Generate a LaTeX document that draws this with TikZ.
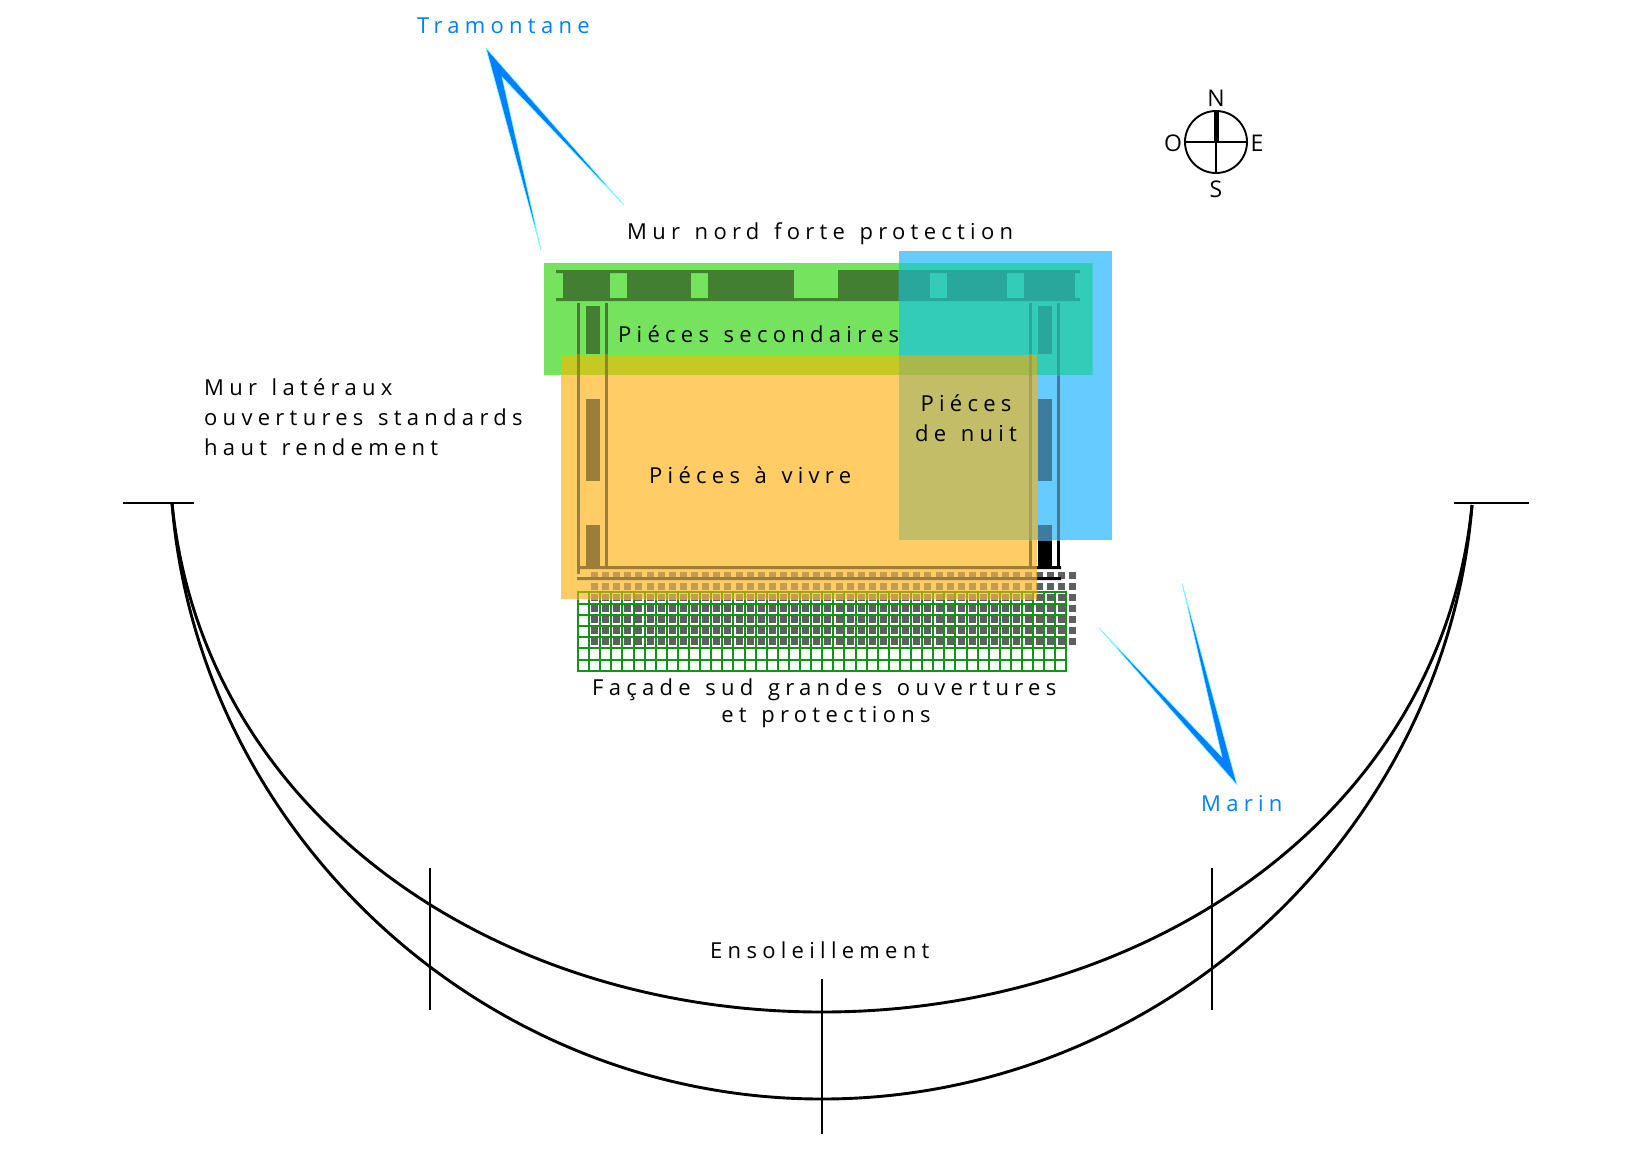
\documentclass[tikz,border=0pt]{standalone}
\usepackage{fontspec}
\usetikzlibrary{positioning}
\newfontfamily\labelfont[LetterSpace=24,WordSpace=1.33]{Open Sans}
\newfontfamily\compassfont{Open Sans}
\definecolor{greenzone}{HTML}{76E35F}
\definecolor{greenwall}{HTML}{437E33}
\definecolor{orangezone}{HTML}{FFCC66}
\definecolor{orangewall}{HTML}{9C7E3B}
\definecolor{bluezone}{HTML}{66CCFF}
\definecolor{bluewall}{HTML}{3E7C9E}
\definecolor{tealzone}{HTML}{33CCB8}
\definecolor{tealwall}{HTML}{29A79C}
\definecolor{olivezone}{HTML}{C4C924}
\definecolor{olivewall}{HTML}{8A8A24}
\definecolor{sandzone}{HTML}{C2BD66}
\definecolor{sandwall}{HTML}{A89F5F}
\definecolor{mosszone}{HTML}{A9B84A}
\definecolor{mosswall}{HTML}{9BA04A}
\definecolor{gridgreen}{HTML}{149414}
\definecolor{gridolive}{HTML}{9AA80F}
\definecolor{tilegrey}{HTML}{5F5F5F}
\definecolor{tiletan}{HTML}{C39C50}
\definecolor{windblue}{HTML}{007FFF}
\definecolor{windhalo}{HTML}{80FFFF}
\tikzset{
wordlabel/.style={anchor=base west,inner sep=0pt,font=\labelfont\fontsize{22}{26}\selectfont},
midlabel/.style={wordlabel,anchor=base},
windlabel/.style={wordlabel,text=windblue},
compasslabel/.style={inner sep=0pt,font=\compassfont\fontsize{23}{26}\selectfont},
sunline/.style={line width=2.9pt},
windtip/.style={fill=windblue,draw=windhalo,line width=0.6pt,line join=miter}
}
\newcommand{\walls}[1]{%
\fill[#1] (556,270) rectangle (794,273) (838,270) rectangle (1080,273) (556,298) rectangle (1080,301);
\foreach \a/\b in {563/610,627/691,708/794,838/930,947/1007,1024/1075}
  \fill[#1] (\a,273) rectangle (\b,298);
\foreach \a in {605,1029,1057}
  \fill[#1] (\a,303) rectangle (\a+3,566);
\fill[#1] (577,303) rectangle (580,574);
\fill[#1] (577,566) rectangle (1061,569) (577,577) rectangle (1061,580);
\foreach \a in {586,1038}
  \foreach \b/\c in {306/354,399/481,525/566}
    \fill[#1] (\a,\b) rectangle (\a+14,\c);
}
\newcommand{\facade}[2]{%
\foreach \i in {0,...,44}
  \draw[#1,line width=2pt] ({578+11.1*\i},591.5) -- ({578+11.1*\i},670.5);
\foreach \j in {0,...,7}
  \draw[#1,line width=2pt] (577,{592.3+11.2*\j}) -- (1067.4,{592.3+11.2*\j});
\foreach \i in {0,...,43}
  \foreach \j in {0,...,6}
    \fill[#2] ({591+11.116*\i},{572+11*\j}) rectangle +(7,7);
}
\newcommand{\zone}[6][]{%
\begin{scope}
\clip (#2) rectangle (#3);
\fill[#4] (#2) rectangle (#3);
#1
\walls{#5}
#6
\end{scope}
}
\begin{document}
\begin{tikzpicture}[x=1pt,y=-1pt]
\useasboundingbox (0,0) rectangle (1637,1157);
% tiles and walls, before the zones
\facade{gridgreen}{tilegrey}
\walls{black}
% zones
\zone{544,262.5}{1092.5,375}{greenzone}{greenwall}{}
\zone[\facade{gridolive}{tiletan}]{561,354.5}{1037,599}{orangezone}{orangewall}{}
\zone{898.5,251}{1112,540}{bluezone}{bluewall}{}
\zone{561,354.5}{1037,375}{olivezone}{olivewall}{}
\zone{898.5,262.5}{1092.5,375}{tealzone}{tealwall}{}
\zone{898.5,354.5}{1037,540}{sandzone}{sandwall}{}
\zone{898.5,354.5}{1037,375}{mosszone}{mosswall}{}
% winds
\coordinate (trtip) at (486,48);
\coordinate (trnotch) at (502,77);
\coordinate (tra) at (624,205);
\coordinate (trb) at (541,250);
\filldraw[windtip] (trtip) -- (tra) -- (trnotch) -- (trb) -- cycle;
\coordinate (matip) at (1237,785);
\coordinate (manotch) at (1222,757);
\coordinate (maa) at (1099,628);
\coordinate (mab) at (1182,583);
\filldraw[windtip] (matip) -- (maa) -- (manotch) -- (mab) -- cycle;
% compass
\node[draw,circle,line width=1.9pt,minimum size=62pt,inner sep=0pt] (rose) at (1216,142) {};
\draw[line width=1.7pt] (rose.west) -- (rose.east) (rose.center) -- (rose.south);
\draw[line width=5pt] (rose.north) -- (rose.center);
\node[compasslabel] (north) at (1216,98.5) {N};
\node[compasslabel] (south) at (1216,189) {S};
\node[compasslabel] (west) at (1173,143) {O};
\node[compasslabel] (east) at (1257,143) {E};
% sun paths
\coordinate (leftend) at (172,503);
\coordinate (rightend) at (1472,505);
\coordinate (noon) at (822,1012);
\coordinate (noonlow) at (822,1099);
\draw[sunline] (leftend) .. controls (203,815) and (495,1012) .. (noon)
  .. controls (1149,1012) and (1441,815) .. (rightend);
\draw[sunline] (leftend) .. controls (198,830) and (480,1099) .. (noonlow)
  .. controls (1164,1099) and (1446,830) .. (rightend);
\draw[sunline] (123,503) -- (194,503);
\draw[sunline] (1454,503) -- (1529,503);
\draw[sunline] (430,868) -- (430,1010);
\draw[sunline] (1212,868) -- (1212,1010);
\draw[sunline] (822,979) -- (822,1134);
% labels
\node[windlabel] (tramontane) at (417,33) {Tramontane};
\node[windlabel] (marin) at (1201,811) {Marin};
\node[wordlabel] (north wall) at (627,239) {Mur nord forte protection};
\node[wordlabel] (secondary) at (618,342) {Piéces secondaires};
\node[wordlabel] (side a) at (204,395) {Mur latéraux};
\node[wordlabel] (side b) at (204,425) {ouvertures standards};
\node[wordlabel] (side c) at (204,455) {haut rendement};
\node[midlabel] (night a) at (966,411) {Piéces};
\node[midlabel] (night b) at (966,441) {de nuit};
\node[wordlabel] (living) at (649,483) {Piéces à vivre};
\node[wordlabel] (south a) at (592,695) {Façade sud grandes ouvertures};
\node[midlabel] (south b) at (826,722) {et protections};
\node[wordlabel] (sun) at (710,958) {Ensoleillement};
\end{tikzpicture}
\end{document}
